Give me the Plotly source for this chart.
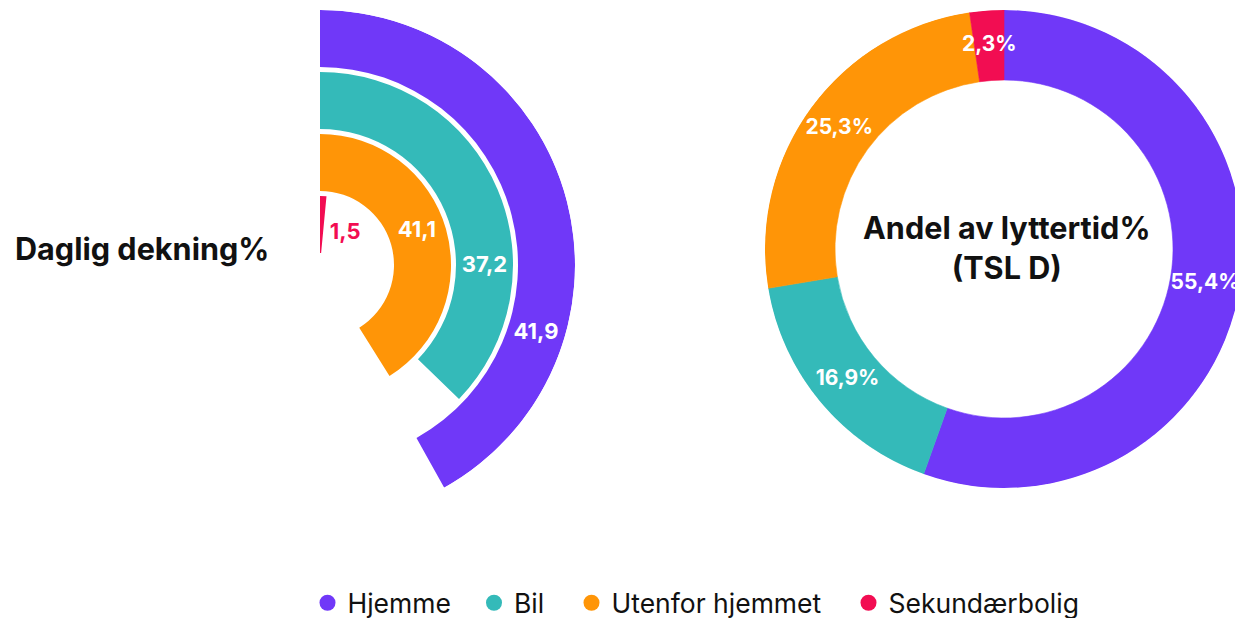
import plotly.graph_objects as go

# ---------------- data ----------------
categories = ["Hjemme", "Bil", "Utenfor hjemmet", "Sekundærbolig"]
daily_reach = [41.9, 37.2, 41.1, 1.5]          # Daglig dekning %
listening_share = [55.4, 16.9, 25.3, 2.3]      # Andel av lyttertid % (TSL D)
colors = ["#7038F8", "#34BAB9", "#FF9507", "#F20D52"]

# ---------------- styling / layout constants ----------------
PAGE_MARGIN = 8             # default body margin of the html page
W, H = 1243 - PAGE_MARGIN, 618 - PAGE_MARGIN
FONT = "Inter"
FULL_SCALE = 100.0          # value that would close a full ring
OUTER_R = 255               # radial units == px (left chart)
RING_PITCH = 62
RING_THICK = 57
LABEL_ANGLES = [107.5, 90.4, 71.0, 38.5]
LABEL_COLORS = ["white", "white", "white", colors[3]]
DONUT_CX, DONUT_CY = 1004, 249
DONUT_R = 239
DONUT_HOLE_R = 169
LEGEND_CENTERS = [327.5, 494, 591.5, 868.5]   # window px of legend markers
LEGEND_Y = 603


def fx(x):  # window px -> paper x
    return (x - PAGE_MARGIN) / W


def fy(y):  # window px -> paper y
    return (H - (y - PAGE_MARGIN)) / H


def fmt(v):
    return f"{v:.1f}".replace(".", ",")


fig = go.Figure()

# ---------- left: radial bars ----------
sweep = [v / FULL_SCALE * 360 for v in daily_reach]
outer = [OUTER_R - i * RING_PITCH for i in range(len(categories))]
inner = [o - RING_THICK for o in outer]

fig.add_trace(go.Barpolar(
    r=[RING_THICK] * len(categories),
    base=inner,
    theta=[s / 2 for s in sweep],
    width=sweep,
    marker=dict(color=colors, line=dict(width=0)),
    showlegend=False, hoverinfo="skip", subplot="polar",
))
fig.add_trace(go.Scatterpolar(
    r=[b + RING_THICK / 2 for b in inner],
    theta=LABEL_ANGLES,
    mode="text",
    text=[fmt(v) for v in daily_reach],
    textfont=dict(family=FONT, size=22, color=LABEL_COLORS, weight=700),
    showlegend=False, hoverinfo="skip", subplot="polar",
))

# ---------- right: donut ----------
total = sum(listening_share)
widths = [v / total * 360 for v in listening_share]
starts = [sum(widths[:i]) for i in range(len(widths))]
mids = [s + w / 2 for s, w in zip(starts, widths)]
ring = DONUT_R - DONUT_HOLE_R

fig.add_trace(go.Barpolar(
    r=[ring] * len(categories),
    base=[DONUT_HOLE_R] * len(categories),
    theta=mids,
    width=widths,
    marker=dict(color=colors, line=dict(width=0.6, color=colors)),
    showlegend=False, hoverinfo="skip", subplot="polar2",
))
fig.add_trace(go.Scatterpolar(
    r=[DONUT_HOLE_R + ring / 2] * len(categories),
    theta=mids,
    mode="text",
    text=[fmt(v) + "%" for v in listening_share],
    textfont=dict(family=FONT, size=21, color="white", weight=700),
    showlegend=False, hoverinfo="skip", subplot="polar2",
))

# ---------- legend entries (circle markers), one legend each ----------
legend_names = ["legend", "legend2", "legend3", "legend4"]
for cat, col, lg in zip(categories, colors, legend_names):
    fig.add_trace(go.Scatterpolar(
        r=[None], theta=[None], mode="markers",
        marker=dict(size=16, color=col, symbol="circle"),
        name=cat, showlegend=True, legend=lg, subplot="polar",
    ))

legend_layout = {}
for lg, c in zip(legend_names, LEGEND_CENTERS):
    legend_layout[lg] = dict(
        orientation="h",
        x=fx(c - 20), xanchor="left",
        y=fy(LEGEND_Y), yanchor="middle",
        font=dict(family=FONT, size=26.5, color="#111111"),
        bgcolor="rgba(0,0,0,0)",
    )

axis_off = dict(
    bgcolor="rgba(0,0,0,0)",
    angularaxis=dict(rotation=90, direction="clockwise", visible=False),
)

fig.update_layout(
    width=W, height=H,
    margin=dict(l=0, r=0, t=0, b=0, autoexpand=False),
    paper_bgcolor="white",
    plot_bgcolor="white",
    font=dict(family=FONT, color="#111111"),
    polar=dict(
        domain=dict(x=[fx(65), fx(575)], y=[fy(520), fy(10)]),
        radialaxis=dict(range=[0, OUTER_R], visible=False),
        **axis_off,
    ),
    polar2=dict(
        domain=dict(x=[fx(DONUT_CX - DONUT_R), min(1.0, fx(DONUT_CX + DONUT_R))],
                    y=[fy(DONUT_CY + DONUT_R), fy(DONUT_CY - DONUT_R)]),
        radialaxis=dict(range=[0, DONUT_R], visible=False),
        **axis_off,
    ),
    annotations=[
        dict(text="<b>Daglig dekning%</b>", x=fx(13), y=fy(248),
             xref="paper", yref="paper", xanchor="left", yanchor="middle",
             showarrow=False, font=dict(family=FONT, size=30.6, color="#111111")),
        dict(text="<b>Andel av lyttertid%<br>(TSL D)</b>", x=fx(1006), y=fy(247),
             xref="paper", yref="paper", xanchor="center", yanchor="middle",
             showarrow=False, font=dict(family=FONT, size=30.6, color="#111111")),
    ],
    **legend_layout,
)

fig.write_html("out.html")
